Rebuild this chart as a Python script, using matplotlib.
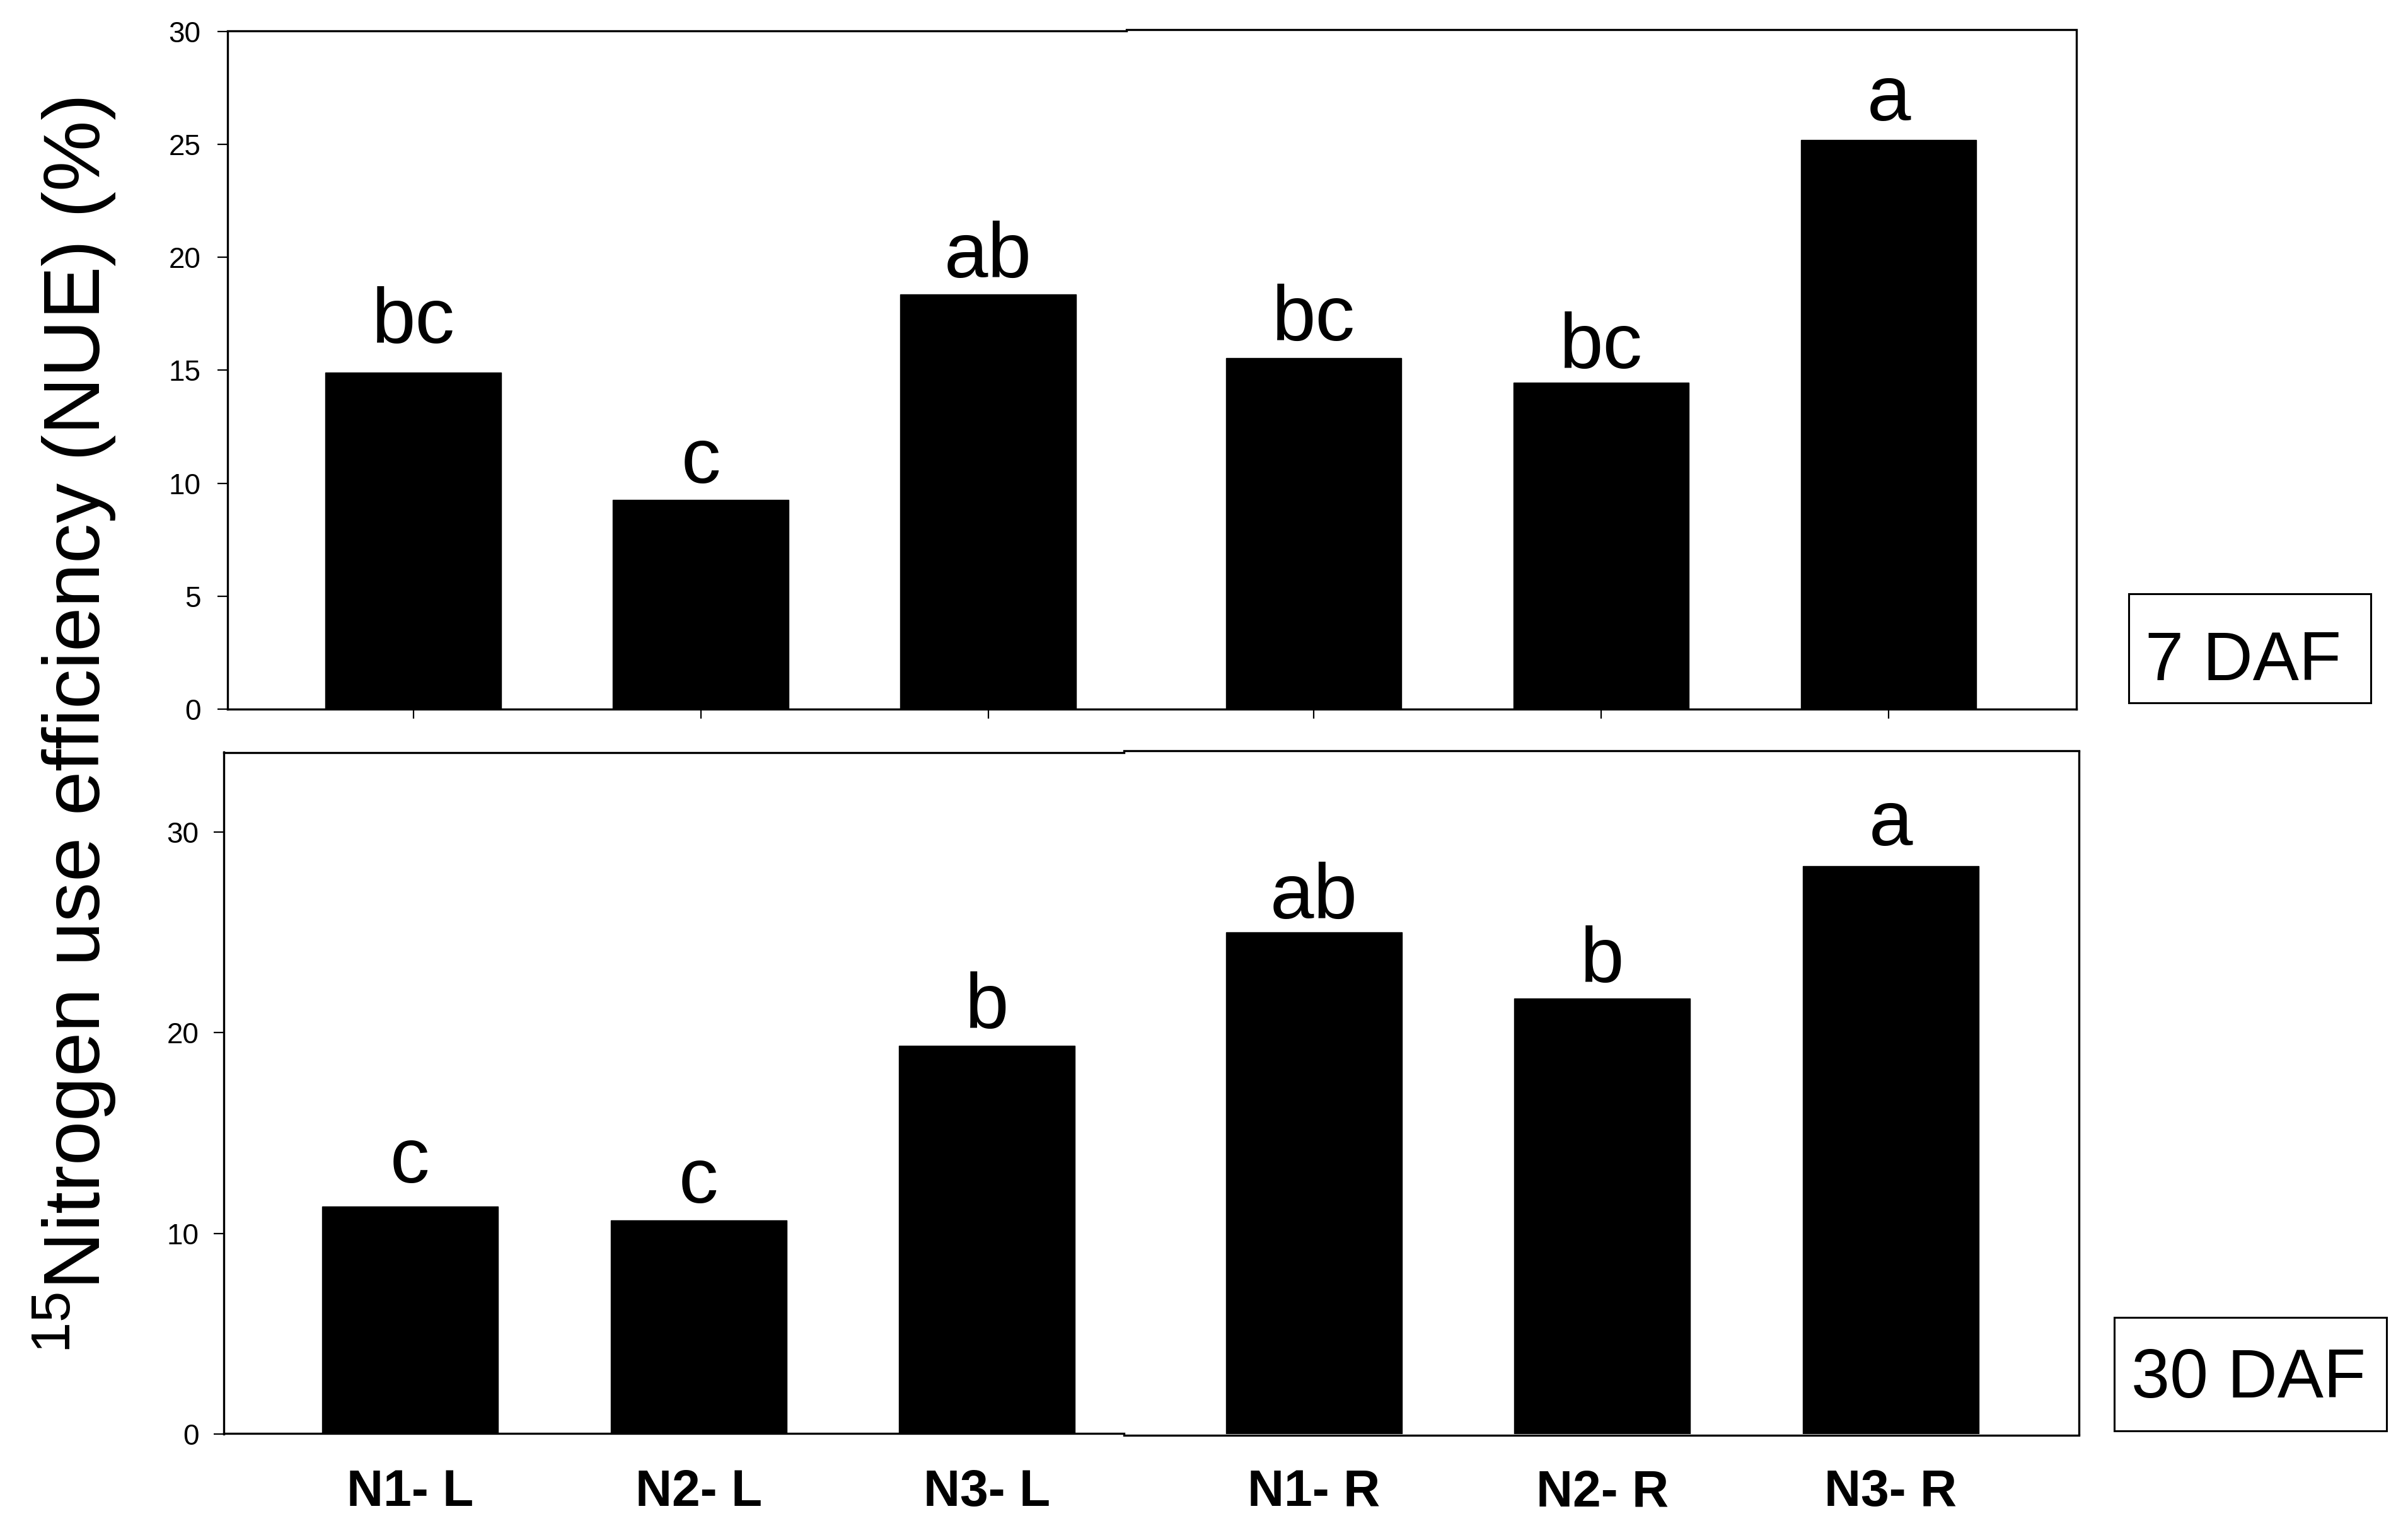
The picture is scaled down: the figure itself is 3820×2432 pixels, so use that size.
import matplotlib
matplotlib.use("Agg")
import matplotlib.pyplot as plt
from matplotlib.patches import Rectangle
from matplotlib.lines import Line2D

plt.rcParams['font.family'] = ['Liberation Sans', 'DejaVu Sans']
plt.rcParams['mathtext.fontset'] = 'custom'
plt.rcParams['mathtext.rm'] = 'Liberation Sans'
plt.rcParams['mathtext.default'] = 'regular'

# ---- data ----
categories = ['N1- L', 'N2- L', 'N3- L', 'N1- R', 'N2- R', 'N3- R']
nue_7daf = [14.9, 9.25, 18.35, 15.55, 14.45, 25.2]
nue_30daf = [11.35, 10.65, 19.35, 25.0, 21.7, 28.3]
letters_7daf = ['bc', 'c', 'ab', 'bc', 'bc', 'a']
letters_30daf = ['c', 'c', 'b', 'ab', 'b', 'a']
yticks_7daf = [0, 5, 10, 15, 20, 25, 30]
yticks_30daf = [0, 10, 20, 30]
panel_names = ['7 DAF', '30 DAF']

# ---- layout / style ----
positions = [1, 2, 3, 4.133, 5.133, 6.133]
bar_width = 0.61
pad_7 = [34, 20, 19.5, 20, 17, 22]      # points above bar for letters
pad_30 = [27, 20, 20, 16, 19, 24]
LW = 2.4
W, H = 3820.0, 2432.0

fig = plt.figure(figsize=(38.2, 24.32), dpi=100)
ax1 = fig.add_axes([0.0945, 0.5374, 0.8623 - 0.0945, 0.9796 - 0.5374])
ax2 = fig.add_axes([0.0929, 0.0646, 0.8634 - 0.0929, 0.5095 - 0.0646])

def style(ax):
    for s in ax.spines.values():
        s.set_linewidth(LW)
        s.set_color('black')
    ax.set_xlim(0.354, 6.786)

def stepped_line(x0, x1, xs, y_left, y_right):
    # frame line drawn in two pieces with a small vertical offset (as in the original)
    for (a, b, y) in [(x0, xs, y_left), (xs, x1, y_right)]:
        fig.add_artist(Line2D([a / W, b / W], [1 - y / H, 1 - y / H],
                              transform=fig.transFigure, color='black',
                              linewidth=LW, solid_capstyle='projecting'))

# Top panel
ax1.bar(positions, nue_7daf, width=bar_width, color='black', edgecolor='black')
for x, v, t, p in zip(positions, nue_7daf, letters_7daf, pad_7):
    ax1.annotate(t, xy=(x, v), xytext=(0, p), textcoords='offset points',
                 ha='center', va='baseline', fontsize=90)
ax1.set_ylim(0, 30)
ax1.set_yticks(yticks_7daf)
ax1.set_xticks(positions)
ax1.set_xticklabels([])
ax1.tick_params(axis='x', direction='out', length=10.5, width=1.6)
ax1.tick_params(axis='y', direction='out', length=11.5, width=1.6,
                labelsize=33, pad=19)
style(ax1)
ax1.spines['top'].set_visible(False)
stepped_line(0.0945 * W, 0.8623 * W, 1787, 49.3, 46.5)

# Bottom panel
ax2.bar(positions, nue_30daf, width=bar_width, color='black', edgecolor='black')
for x, v, t, p in zip(positions, nue_30daf, letters_30daf, pad_30):
    ax2.annotate(t, xy=(x, v), xytext=(0, p), textcoords='offset points',
                 ha='center', va='baseline', fontsize=90)
ax2.set_ylim(0, 34)
ax2.set_yticks(yticks_30daf)
ax2.set_xticks(positions)
ax2.set_xticklabels(categories, fontsize=58, fontweight='bold')
ax2.tick_params(axis='x', length=0, pad=40)
ax2.tick_params(axis='y', direction='out', length=11.5, width=1.6,
                labelsize=33, pad=17)
style(ax2)
ax2.spines['top'].set_visible(False)
ax2.spines['bottom'].set_visible(False)
stepped_line(0.0929 * W, 0.8634 * W, 1783, 1193.7, 1191.3)
stepped_line(0.0929 * W, 0.8634 * W, 1783, 2274.3, 2276.7)

# Y label
fig.text(0.0308, 0.5265, r'$^{15}$Nitrogen use efficiency (NUE) (%)',
         rotation=90, ha='center', va='center', fontsize=91)

# Panel boxes
boxes = [(0.8840, 0.5415, 0.9846 - 0.8840, 0.6127 - 0.5415, 0.8908, 0.5565),
         (0.8780, 0.0666, 0.9911 - 0.8780, 0.1406 - 0.0666, 0.8851, 0.0884)]
for name, (bx, by, bw, bh, tx, ty) in zip(panel_names, boxes):
    fig.add_artist(Rectangle((bx, by), bw, bh, transform=fig.transFigure,
                             fill=False, edgecolor='black', linewidth=2.2))
    fig.text(tx, ty, name, ha='left', va='baseline', fontsize=79)

fig.savefig('out.png', dpi=100, facecolor='white')
